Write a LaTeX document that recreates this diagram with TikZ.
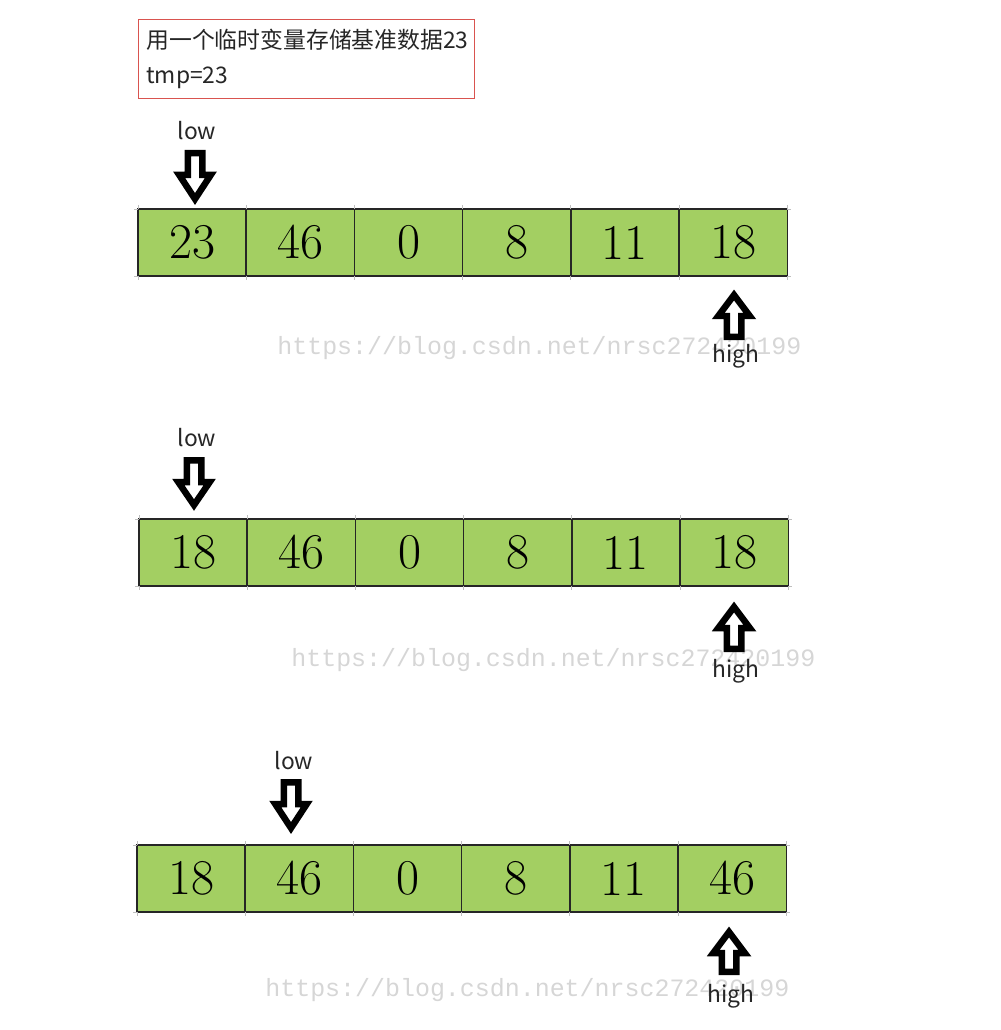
\documentclass[tikz,border=0pt]{standalone}
\usepackage{fontspec}
\newfontfamily\cjk{Noto Sans CJK SC}
\newfontfamily\wmfont{Liberation Mono}
\definecolor{cellgreen}{HTML}{A3CF62}
\definecolor{boxred}{HTML}{D9534F}
\definecolor{wmgray}{HTML}{D6D6D6}
\tikzset{
  cell/.style={draw=black!85, line width=0.8pt, fill=cellgreen, minimum width=2.164cm, minimum height=1.34cm, inner sep=0pt, font=\fontsize{28.5}{30}\selectfont},
  lbl/.style={font=\cjk\fontsize{13}{15}\selectfont, text=black!85, inner sep=0pt},
  wm/.style={font=\wmfont\fontsize{14.2}{16}\selectfont, text=wmgray, inner sep=0pt, anchor=west},
  blk/.style={draw=black, fill=white, line width=0.13cm, line join=miter, miter limit=3},
  tick/.style={draw=black!25, line width=0.5pt}
}
\newcommand\myDownArr[3]{% cx, top, tip
  \path[blk] (#1-7.25,#2+3.25) -- (#1+7.25,#2+3.25) -- (#1+7.25,#2+25) -- (#1+15.75,#2+25) -- (#1,#3-6) -- (#1-15.75,#2+25) -- (#1-7.25,#2+25) -- cycle;}
\newcommand\myUpArr[3]{% cx, tip, bottom
  \path[blk] (#1-7.25,#3-3.25) -- (#1+7.25,#3-3.25) -- (#1+7.25,#2+27) -- (#1+15.75,#2+27) -- (#1,#2+6) -- (#1-15.75,#2+27) -- (#1-7.25,#2+27) -- cycle;}
\begin{document}
\begin{tikzpicture}[x=0.02cm,y=-0.02cm]
\useasboundingbox (0,0) rectangle (1000,1030);

% watermarks
\node[wm] (wm1) at (277,348) {https://blog.csdn.net/nrsc272420199};
\node[wm] (wm2) at (291,660) {https://blog.csdn.net/nrsc272420199};
\node[wm] (wm3) at (265,990) {https://blog.csdn.net/nrsc272420199};

% top info box
\node[draw=boxred, line width=0.8pt, minimum width=6.72cm, minimum height=1.58cm, anchor=north west] (info) at (138,19) {};
\node[lbl, anchor=west, font=\cjk\fontsize{13}{15}\selectfont] (t1) at (146,40) {用一个临时变量存储基准数据23};
\node[lbl, anchor=west, font=\cjk\fontsize{13}{15}\selectfont] (t2) at (146,78) {tmp=23};

% row 1
\foreach \i/\v in {0/23,1/46,2/0,3/8,4/11,5/18} {
  \node[cell] (a\i) at (138+54.1+108.2*\i, 242.5) {\raisebox{-2pt}{\v}};
}
% row 2
\foreach \i/\v in {0/18,1/46,2/0,3/8,4/11,5/18} {
  \node[cell] (b\i) at (139+54.1+108.2*\i, 552.5) {\raisebox{-2pt}{\v}};
}
% row 3
\foreach \i/\v in {0/18,1/46,2/0,3/8,4/11,5/46} {
  \node[cell] (c\i) at (137+54.1+108.2*\i, 878.5) {\raisebox{-2pt}{\v}};
}

% small ticks at grid ends
\foreach \r/\x/\ya/\yb in {a/138/209/276, b/139/519/586, c/137/845/912} {
  \foreach \k in {0,...,6} {
    \draw[tick] (\x+108.2*\k,\ya-4) -- (\x+108.2*\k,\ya);
    \draw[tick] (\x+108.2*\k,\yb) -- (\x+108.2*\k,\yb+4);
  }
  \draw[tick] (\x-4,\ya) -- (\x,\ya);
  \draw[tick] (\x-4,\yb) -- (\x,\yb);
  \draw[tick] (\x+649,\ya) -- (\x+653,\ya);
  \draw[tick] (\x+649,\yb) -- (\x+653,\yb);
}

% low pointers
\node[lbl] (low1) at (197,131) {low};
\myDownArr{195}{150}{205}
\node[lbl] (low2) at (197,438) {low};
\myDownArr{194}{457}{511}
\node[lbl] (low3) at (294,761) {low};
\myDownArr{291}{779}{834}

% high pointers
\myUpArr{734}{289}{340}
\node[lbl] (high1) at (736,356) {high};
\myUpArr{734}{601}{652}
\node[lbl] (high2) at (736,671) {high};
\myUpArr{729}{926}{975}
\node[lbl] (high3) at (731,996) {high};
\end{tikzpicture}
\end{document}
